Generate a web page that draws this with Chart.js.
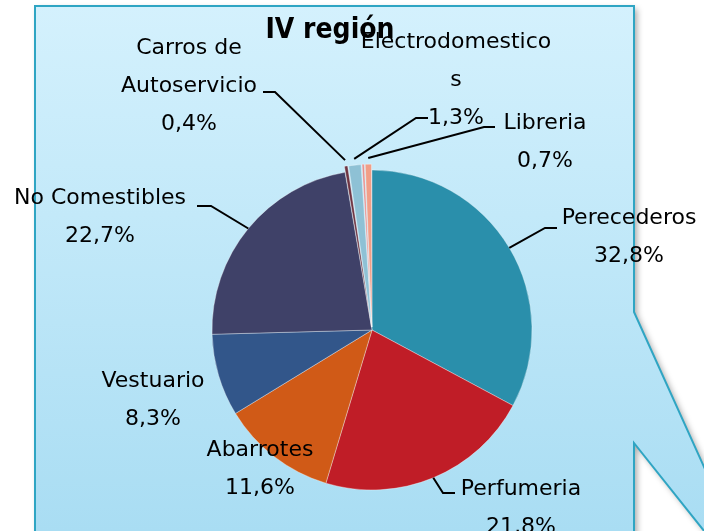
<!DOCTYPE html>
<html><head><meta charset="utf-8">
<script src="https://cdn.jsdelivr.net/npm/chart.js@4/dist/chart.umd.min.js"></script>
<style>html,body{margin:0;padding:0;background:#fff;overflow:hidden}#wrap{width:704px;height:531px;position:relative}</style>
</head><body><div id="wrap"><canvas id="c" width="704" height="531"></canvas></div>
<script>
// ---- data ----
const categories = ['Perecederos','Perfumeria','Abarrotes','Vestuario','No Comestibles','Carros de Autoservicio','Electrodomesticos','','Libreria'];
const shares = [32.8, 21.8, 11.6, 8.3, 22.7, 0.4, 1.3, 0.3, 0.7];
const chartTitle = 'IV región';

// ---- styles / layout ----
const sliceColors = ['#2A8FAB','#C01D27','#D05A17','#32568A','#3F4168','#6E3442','#8EC1D5','#E88E8C','#F19E87'];
const explodedSlices = [0,0,0,0,0,12,12,12,12];
// label layout: center x of text, center y of first line, wrap width, leader elbow & end points
const labelLayout = [
  {x:629, y:218, w:300, elbow:[545,228], end:[557,228]},
  {x:521, y:489, w:300, elbow:[443,493], end:[455,493]},
  {x:260, y:450, w:300},
  {x:153, y:381, w:300},
  {x:100, y:198, w:300, elbow:[211,206], end:[197,206]},
  {x:189, y:48,  w:150, elbow:[275,92], end:[263,92]},
  {x:456, y:42,  w:196, elbow:[416,118], end:[428,118]},
  null,
  {x:545, y:123, w:300, elbow:[484,127], end:[495,127]}
];
const LABEL_FONT = '22px "DejaVu Sans"';
const LINE_H = 38;

function wrap(ctx, text, maxW){
  const words = text.split(' '); const lines=[]; let cur='';
  for (const w of words){
    const t = cur ? cur+' '+w : w;
    if (ctx.measureText(t).width <= maxW) cur = t;
    else { if (cur) lines.push(cur); cur = w; }
    while (ctx.measureText(cur).width > maxW){
      let i = cur.length;
      while (i > 1 && ctx.measureText(cur.slice(0,i)).width > maxW) i--;
      lines.push(cur.slice(0,i)); cur = cur.slice(i);
    }
  }
  if (cur) lines.push(cur);
  return lines;
}

const backgroundPlugin = {
  id:'bg',
  beforeDraw(chart){
    const ctx = chart.ctx;
    ctx.save();
    ctx.fillStyle = '#fff';
    ctx.fillRect(0,0,chart.width,chart.height);
    const path = new Path2D();
    path.moveTo(35,6); path.lineTo(634,6); path.lineTo(634,312);
    path.lineTo(771,615); path.lineTo(634,443); path.lineTo(634,545);
    path.lineTo(35,545); path.closePath();
    const g = ctx.createLinearGradient(0,6,0,531);
    g.addColorStop(0,'#D4F1FD'); g.addColorStop(1,'#A9DDF3');
    ctx.shadowColor='rgba(0,0,0,0.35)'; ctx.shadowBlur=6; ctx.shadowOffsetX=3; ctx.shadowOffsetY=3;
    ctx.fillStyle = g; ctx.fill(path);
    ctx.shadowColor='transparent';
    ctx.lineWidth = 2; ctx.strokeStyle = '#2FA5C3'; ctx.stroke(path);
    ctx.restore();
  }
};

const labelPlugin = {
  id:'lbl',
  afterDatasetsDraw(chart){
    const ctx = chart.ctx;
    const meta = chart.getDatasetMeta(0);
    ctx.save();
    // title
    ctx.fillStyle = '#000';
    ctx.font = 'bold 28px "DejaVu Sans Condensed"';
    ctx.textAlign = 'center'; ctx.textBaseline = 'middle';
    ctx.fillText(chartTitle, 330, 31);
    ctx.font = LABEL_FONT;
    meta.data.forEach((arc, i) => {
      const L = labelLayout[i];
      if (!L || !categories[i]) return;
      const p = arc.getProps(['x','y','startAngle','endAngle','outerRadius'], true);
      const mid = (p.startAngle + p.endAngle)/2;
      const off = explodedSlices[i] || 0;
      const ax = p.x + Math.cos(mid)*(p.outerRadius + off);
      const ay = p.y + Math.sin(mid)*(p.outerRadius + off);
      if (L.elbow){
        ctx.beginPath();
        ctx.moveTo(ax, ay); ctx.lineTo(L.elbow[0], L.elbow[1]); ctx.lineTo(L.end[0], L.end[1]);
        ctx.lineWidth = 2; ctx.strokeStyle = '#000'; ctx.stroke();
      }
      const lines = wrap(ctx, categories[i], L.w);
      lines.push(shares[i].toFixed(1).replace('.', ',') + '%');
      lines.forEach((t, k) => ctx.fillText(t, L.x, L.y + k*LINE_H));
    });
    ctx.restore();
  }
};

new Chart(document.getElementById('c'), {
  type:'pie',
  data:{
    labels: categories,
    datasets:[{
      data: shares,
      backgroundColor: sliceColors,
      borderColor: 'rgba(255,255,255,0.35)',
      borderWidth: 1,
      offset: explodedSlices
    }]
  },
  options:{
    responsive:false,
    devicePixelRatio:1,
    animation:false,
    radius:160,
    layout:{padding:{left:40,right:0,top:129,bottom:0}},
    plugins:{legend:{display:false}, tooltip:{enabled:false}, title:{display:false}}
  },
  plugins:[backgroundPlugin, labelPlugin]
});
</script>
</body></html>
